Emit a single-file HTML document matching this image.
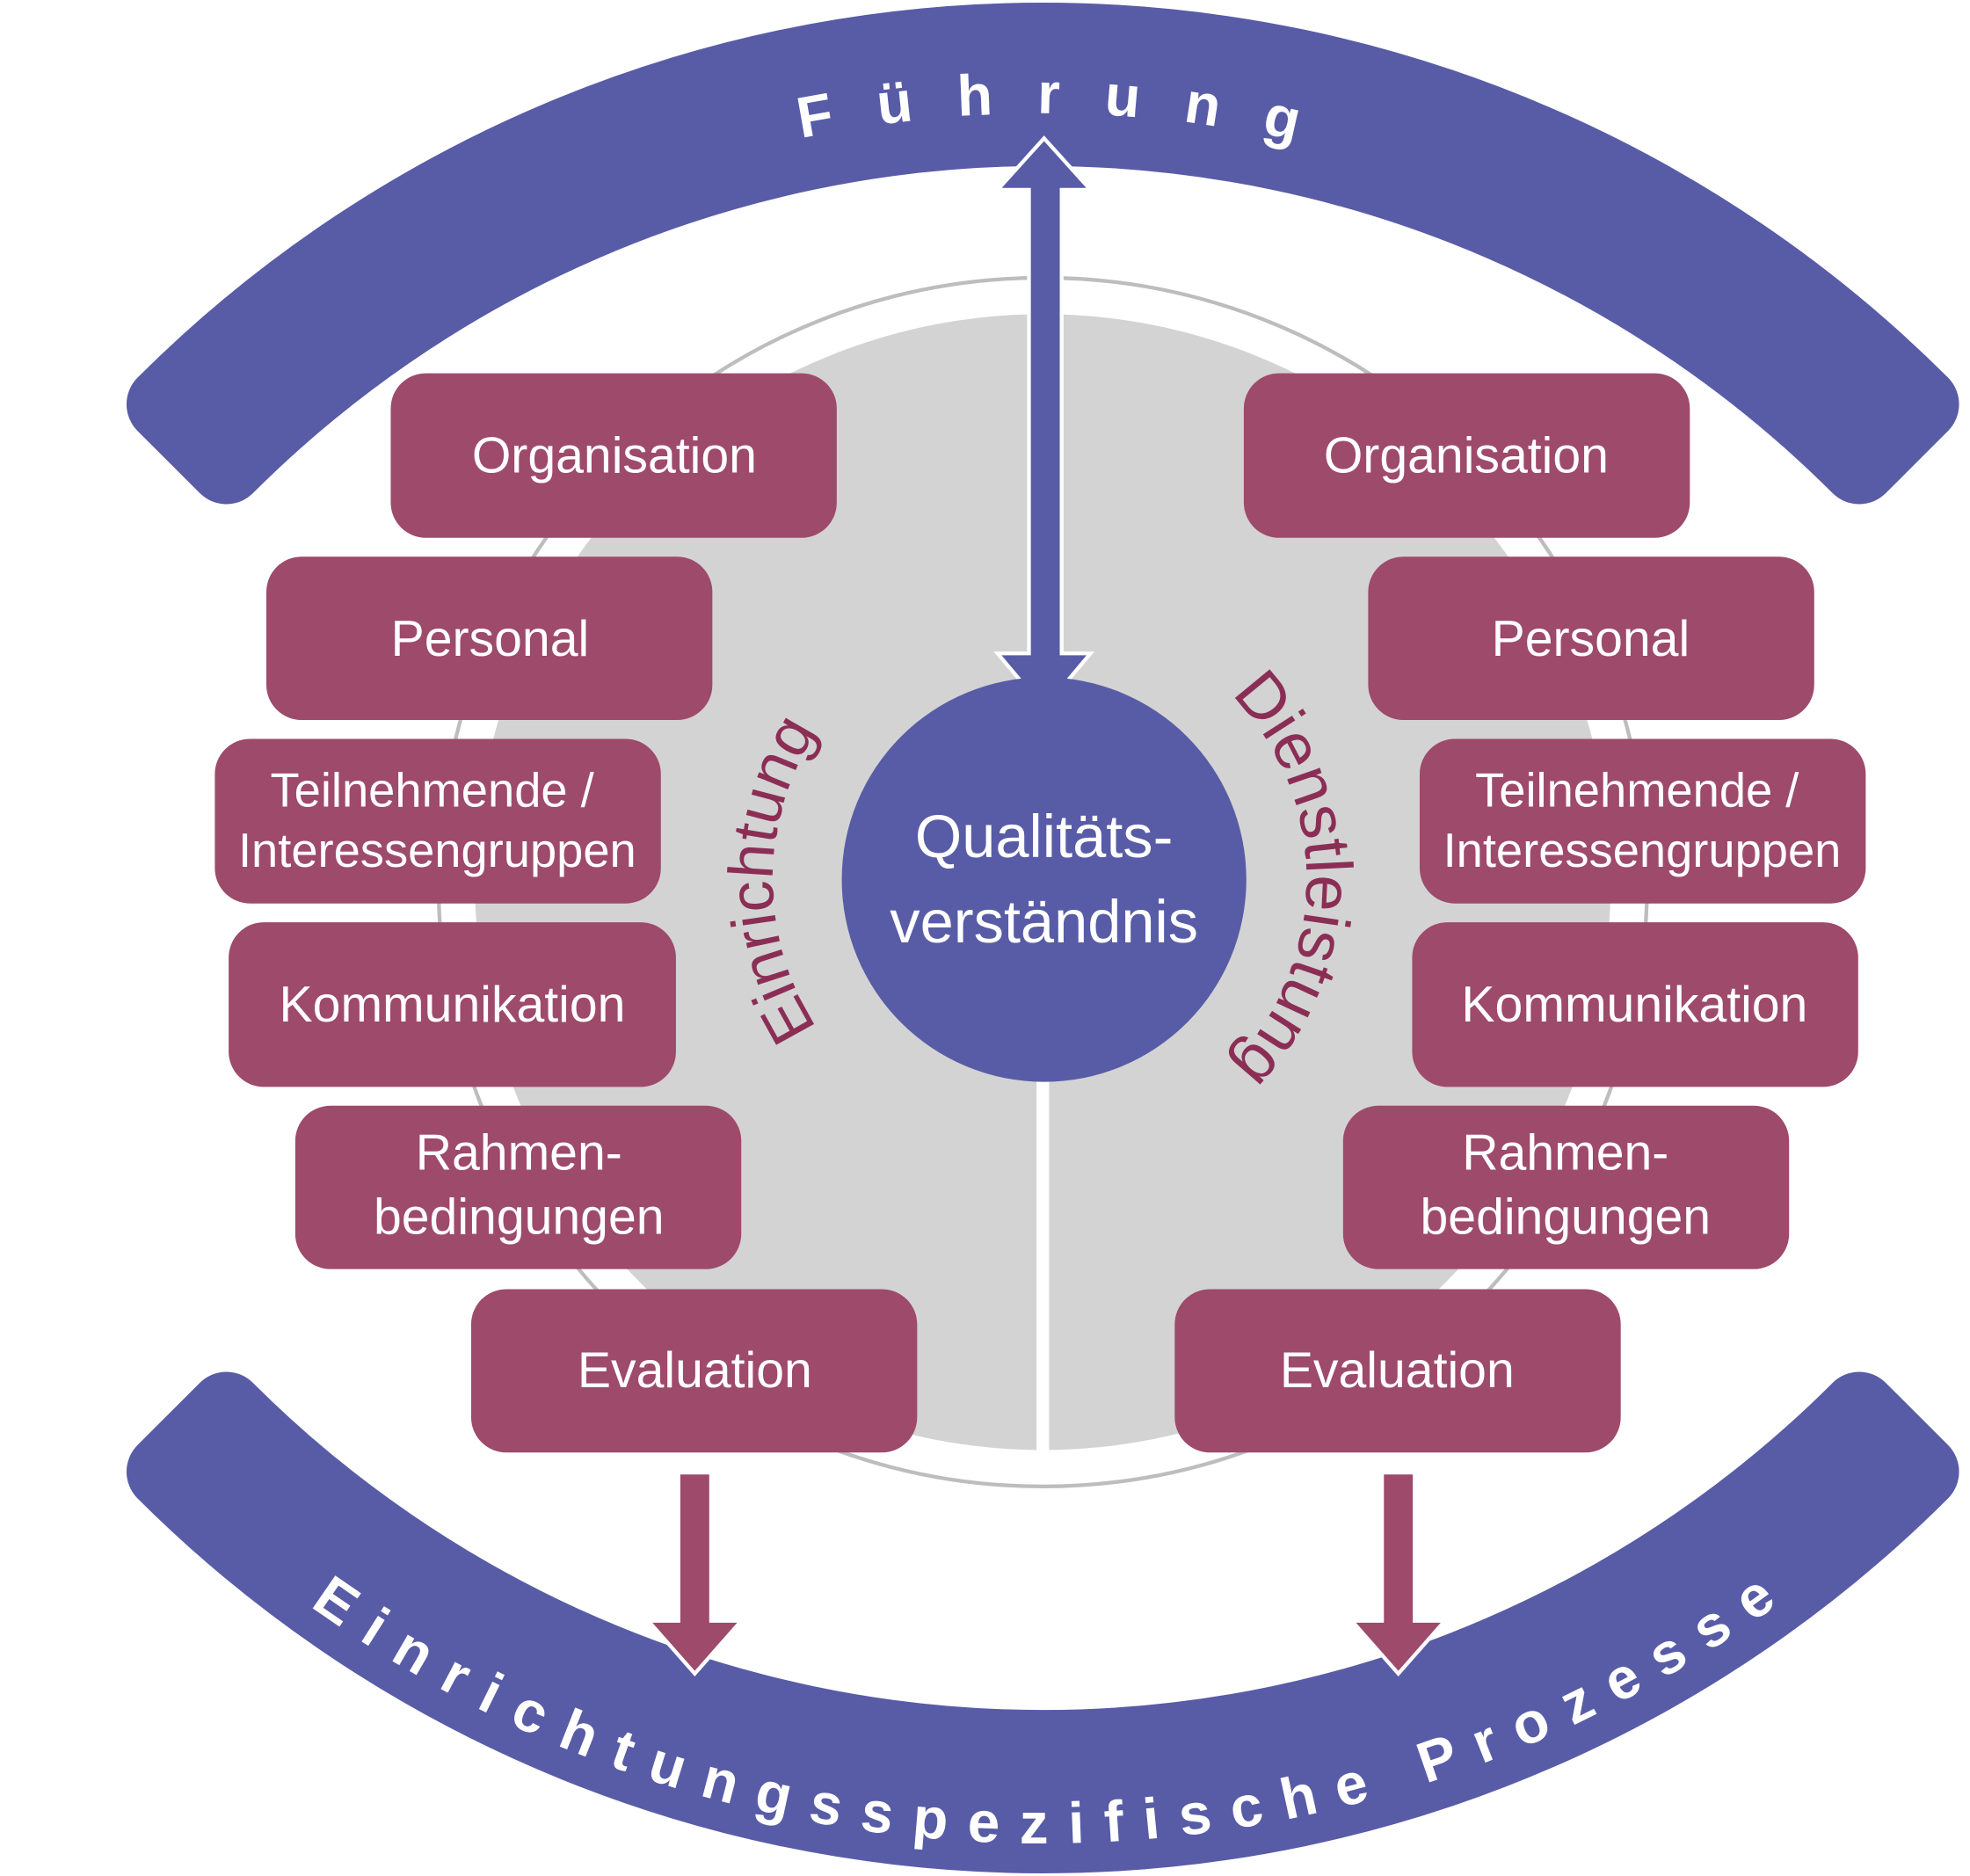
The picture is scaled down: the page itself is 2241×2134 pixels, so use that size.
<!DOCTYPE html>
<html><head><meta charset="utf-8"><style>
html,body{margin:0;padding:0;background:#fff;}
svg{display:block;}
text{font-family:"Liberation Sans",sans-serif;}
</style></head><body>
<svg width="2241" height="2134" viewBox="0 0 1568 1493" xmlns="http://www.w3.org/2000/svg">
<defs>
<path id="topArc" d="M 171.6 362.6 A 932 932 0 0 1 1488.4 362.6"/>
<path id="botArc" d="M 126.4 1175.6 A 995 995 0 0 0 1533.6 1175.6"/>
<path id="leftArc" d="M 678 852 A 215 215 0 0 1 678 548"/>
<path id="rightArc" d="M 978.5 551.5 A 210 210 0 0 1 978.5 848.5"/>
</defs>
<!-- gray circle -->
<circle cx="830" cy="702" r="481" fill="none" stroke="#bdbdbd" stroke-width="3"/>
<circle cx="830" cy="702" r="452" fill="#d3d3d3"/>
<rect x="825" y="700" width="10" height="460" fill="#fff"/>
<!-- bands -->
<path d="M 130.7 321.7 A 989 989 0 0 1 1529.3 321.7 L 1479.8 371.2 A 919 919 0 0 0 180.2 371.2 Z" fill="#585ca6" stroke="#585ca6" stroke-width="60" stroke-linejoin="round"/>
<path d="M 130.7 1171.3 A 989 989 0 0 0 1529.3 1171.3 L 1479.8 1121.8 A 919 919 0 0 1 180.2 1121.8 Z" fill="#585ca6" stroke="#585ca6" stroke-width="60" stroke-linejoin="round"/>
<text font-size="46" font-weight="bold" fill="#fff" letter-spacing="35"><textPath href="#topArc" startOffset="51.5%" text-anchor="middle">Führung</textPath></text>
<text font-size="46" font-weight="bold" fill="#fff" letter-spacing="16.3"><textPath href="#botArc" startOffset="50.6%" text-anchor="middle">Einrichtungsspezifische Prozesse</textPath></text>
<!-- vertical arrow -->
<polygon points="831,110 868,151 845,151 845,520 868,520 831,564 794,520 819,520 819,151 794,151" fill="#585ca6" stroke="#fff" stroke-width="3"/>
<!-- center circle -->
<circle cx="831" cy="700" r="161" fill="#585ca6"/>
<text x="831" y="682" font-size="48" fill="#fff" text-anchor="middle">Qualitäts-</text>
<text x="831" y="750" font-size="48" fill="#fff" text-anchor="middle">verständnis</text>
<!-- curved labels -->
<text font-size="50" fill="#8b2e55"><textPath href="#leftArc" startOffset="50%" text-anchor="middle">Einrichtung</textPath></text>
<text font-size="52" fill="#8b2e55"><textPath href="#rightArc" startOffset="50%" text-anchor="middle">Dienstleistung</textPath></text>
<!-- boxes -->
<g fill="#9e4a6a">
<rect x="311" y="297" width="355" height="131" rx="28"/>
<rect x="212" y="443" width="355" height="130" rx="28"/>
<rect x="171" y="588" width="355" height="131" rx="28"/>
<rect x="182" y="734" width="356" height="131" rx="28"/>
<rect x="235" y="880" width="355" height="130" rx="28"/>
<rect x="375" y="1026" width="355" height="130" rx="28"/>
<rect x="990" y="297" width="355" height="131" rx="28"/>
<rect x="1089" y="443" width="355" height="130" rx="28"/>
<rect x="1130" y="588" width="355" height="131" rx="28"/>
<rect x="1124" y="734" width="355" height="131" rx="28"/>
<rect x="1069" y="880" width="355" height="130" rx="28"/>
<rect x="935" y="1026" width="355" height="130" rx="28"/>
</g>
<g fill="#fff" font-size="40" text-anchor="middle">
<text x="489" y="376">Organisation</text>
<text x="390" y="522">Personal</text>
<text x="344" y="642" font-size="38">Teilnehmende /</text>
<text x="348" y="690" font-size="38">Interessengruppen</text>
<text x="360" y="813">Kommunikation</text>
<text x="413" y="931">Rahmen-</text>
<text x="413" y="982">bedingungen</text>
<text x="553" y="1104">Evaluation</text>
<text x="1167" y="376">Organisation</text>
<text x="1266" y="522">Personal</text>
<text x="1303" y="642" font-size="38">Teilnehmende /</text>
<text x="1307" y="690" font-size="38">Interessengruppen</text>
<text x="1301" y="813">Kommunikation</text>
<text x="1246" y="931">Rahmen-</text>
<text x="1246" y="982">bedingungen</text>
<text x="1112" y="1104">Evaluation</text>
</g>
<!-- down arrows -->
<polygon points="540,1172 566,1172 566,1290 590,1290 553,1332 516,1290 540,1290" fill="#9e4a6a" stroke="#fff" stroke-width="3"/>
<polygon points="1100,1172 1126,1172 1126,1290 1150,1290 1113,1332 1076,1290 1100,1290" fill="#9e4a6a" stroke="#fff" stroke-width="3"/>
</svg>
</body></html>
